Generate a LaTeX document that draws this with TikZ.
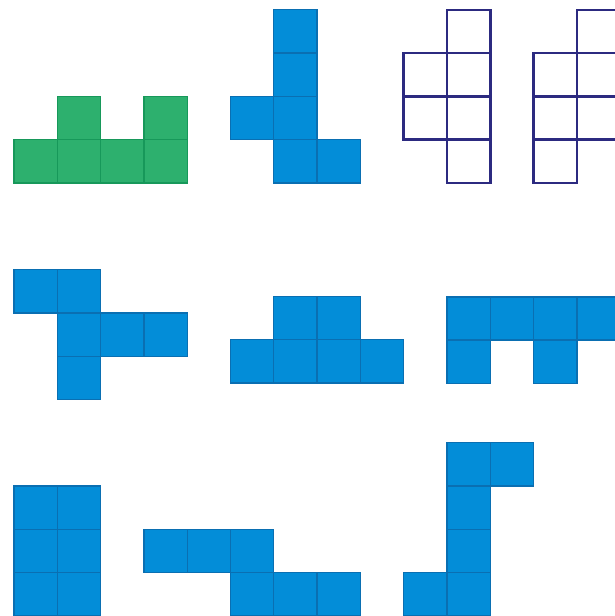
\documentclass[tikz,border=0pt]{standalone}
\usepackage{tikz}
\usepackage{xcolor}

\definecolor{netblue}{HTML}{038DD8}
\definecolor{netblueline}{HTML}{0A6FB2}
\definecolor{netgreen}{HTML}{2DB06E}
\definecolor{netgreenline}{HTML}{17985A}
\definecolor{netnavy}{HTML}{2C2A80}

\begin{document}
\begin{tikzpicture}[
	bluecell/.style={fill=netblue,draw=netblueline,line width=0.9pt},
	greencell/.style={fill=netgreen,draw=netgreenline,line width=0.9pt},
	emptycell/.style={draw=netnavy,line width=1.6pt}
	]
		
		\useasboundingbox (-0.323,0) rectangle (13.88,14.226);
		\clip (-0.323,0) rectangle (13.88,14.226);
		
		% Top row: green net
		\draw[greencell] (0,10) rectangle (1,11) (1,10) rectangle (2,11) (2,10) rectangle (3,11) (3,10) rectangle (4,11);
		\draw[greencell] (1,11) rectangle (2,12) (3,11) rectangle (4,12);
		
		% Top row: blue net
		\draw[bluecell] (6,10) rectangle (7,11) (6,11) rectangle (7,12) (6,12) rectangle (7,13) (6,13) rectangle (7,14);
		\draw[bluecell] (5,11) rectangle (6,12) (7,10) rectangle (8,11);
		
		% Top row: first empty net
		\draw[emptycell] (10,10) rectangle (11,11) (10,11) rectangle (11,12) (10,12) rectangle (11,13) (10,13) rectangle (11,14);
		\draw[emptycell] (9,11) rectangle (10,12) (9,12) rectangle (10,13);
		
		% Top row: second empty net
		\draw[emptycell] (12,10) rectangle (13,11) (12,11) rectangle (13,12) (12,12) rectangle (13,13);
		\draw[emptycell] (13,11) rectangle (14,12) (13,12) rectangle (14,13) (13,13) rectangle (14,14);
		
		% Middle row: first net
		\draw[bluecell] (0,7) rectangle (1,8) (1,7) rectangle (2,8);
		\draw[bluecell] (1,6) rectangle (2,7) (2,6) rectangle (3,7) (3,6) rectangle (4,7);
		\draw[bluecell] (1,5) rectangle (2,6);
		
		% Middle row: second net
		\draw[bluecell] (5,5.38) rectangle (6,6.38) (6,5.38) rectangle (7,6.38) (7,5.38) rectangle (8,6.38) (8,5.38) rectangle (9,6.38);
		\draw[bluecell] (6,6.38) rectangle (7,7.38) (7,6.38) rectangle (8,7.38);
		
		% Middle row: third net
		\draw[bluecell] (10,6.37) rectangle (11,7.37) (11,6.37) rectangle (12,7.37) (12,6.37) rectangle (13,7.37) (13,6.37) rectangle (14,7.37);
		\draw[bluecell] (10,5.37) rectangle (11,6.37) (12,5.37) rectangle (13,6.37);
		
		% Bottom row: block net
		\draw[bluecell] (0,0) rectangle (1,1) (1,0) rectangle (2,1) (0,1) rectangle (1,2) (1,1) rectangle (2,2) (0,2) rectangle (1,3) (1,2) rectangle (2,3);
		
		% Bottom row: step net
		\draw[bluecell] (3,1) rectangle (4,2) (4,1) rectangle (5,2) (5,1) rectangle (6,2);
		\draw[bluecell] (5,0) rectangle (6,1) (6,0) rectangle (7,1) (7,0) rectangle (8,1);
		
		% Bottom row: hook net
		\draw[bluecell] (10,0) rectangle (11,1) (10,1) rectangle (11,2) (10,2) rectangle (11,3) (10,3) rectangle (11,4);
		\draw[bluecell] (11,3) rectangle (12,4) (9,0) rectangle (10,1);
		
	\end{tikzpicture}
\end{document}
